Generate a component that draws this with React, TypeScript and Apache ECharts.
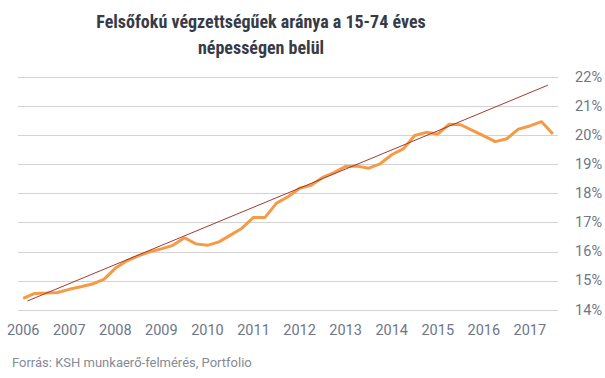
import React, { useEffect, useRef } from "react";
import * as echarts from "echarts";

const titleLines = ["Felsőfokú végzettségűek aránya a 15-74 éves", "népességen belül"];
const sourceText = "Forrás: KSH munkaerő-felmérés, Portfolio";
const yearLabels = ["2006", "2007", "2008", "2009", "2010", "2011", "2012", "2013", "2014", "2015", "2016", "2017"];
// quarterly share (%), 2006 Q1 .. 2017 Q3
const shareValues = [
  14.4, 14.57, 14.58, 14.6, 14.71, 14.8, 14.89, 15.05, 15.43, 15.69, 15.86, 16.0,
  16.1, 16.22, 16.48, 16.27, 16.22, 16.34, 16.57, 16.81, 17.18, 17.18, 17.67, 17.89,
  18.18, 18.28, 18.55, 18.72, 18.93, 18.94, 18.87, 19.02, 19.33, 19.53, 19.99, 20.1,
  20.04, 20.38, 20.36, 20.17, 19.98, 19.78, 19.88, 20.21, 20.32, 20.47, 20.04,
];
// trend line end points: [quarter index, value]
const trendStart: [number, number] = [0.37, 14.31];
const trendEnd: [number, number] = [45.57, 21.72];

export default function App() {
  const ref = useRef<HTMLDivElement>(null);
  useEffect(() => {
    if (!ref.current) return;
    const chart = echarts.init(ref.current, undefined, { renderer: "svg" });
    const labelColor = "#6d7688";
    const tickValues = yearLabels.map((_, i) => i * 4);
    chart.setOption({
      animation: false,
      backgroundColor: "#ffffff",
      grid: { left: 18, right: 45, top: 77, bottom: 68 },
      xAxis: {
        type: "value",
        min: -0.45,
        max: 46.45,
        axisLine: { show: false },
        axisTick: { show: false },
        splitLine: { show: false },
        axisLabel: {
          customValues: tickValues,
          margin: 13,
          color: labelColor,
          fontFamily: "Roboto",
          fontSize: 14.5,
          formatter: (v: number) => yearLabels[Math.round(v / 4)] ?? "",
        },
      },
      yAxis: {
        type: "value",
        position: "right",
        min: 14,
        max: 22,
        interval: 1,
        axisLine: { show: false },
        axisTick: { show: false },
        splitLine: { lineStyle: { color: "#d3d3d3", width: 1 } },
        axisLabel: {
          margin: 17,
          color: labelColor,
          fontFamily: "Roboto",
          fontSize: 14.5,
          formatter: (v: number) => `${v}%`,
        },
      },
      series: [
        {
          type: "line",
          data: shareValues.map((v, i) => [i, v]),
          showSymbol: false,
          lineStyle: { color: "#f59a45", width: 3 },
          z: 2,
        },
        {
          type: "line",
          data: [trendStart, trendEnd],
          showSymbol: false,
          lineStyle: { color: "#a33a30", width: 1 },
          z: 3,
        },
      ],
      graphic: [
        {
          type: "text",
          x: 261,
          y: 8,
          style: {
            text: titleLines.join("\n"),
            textAlign: "center",
            textVerticalAlign: "top",
            fontFamily: "'Roboto Condensed', 'Liberation Sans Narrow', 'DejaVu Sans Condensed', Roboto",
            fontWeight: "bold",
            fontSize: 18,
            lineHeight: 26,
            fill: "#363b47",
          },
        },
        {
          type: "text",
          x: 12,
          y: 362,
          style: {
            text: sourceText,
            textAlign: "left",
            textVerticalAlign: "middle",
            fontFamily: "Roboto",
            fontSize: 13,
            fill: "#858b96",
          },
        },
      ],
    });
    return () => chart.dispose();
  }, []);
  return (
    <div
      ref={ref}
      style={{ position: "fixed", left: 0, top: 0, width: 605, height: 378 }}
    />
  );
}
